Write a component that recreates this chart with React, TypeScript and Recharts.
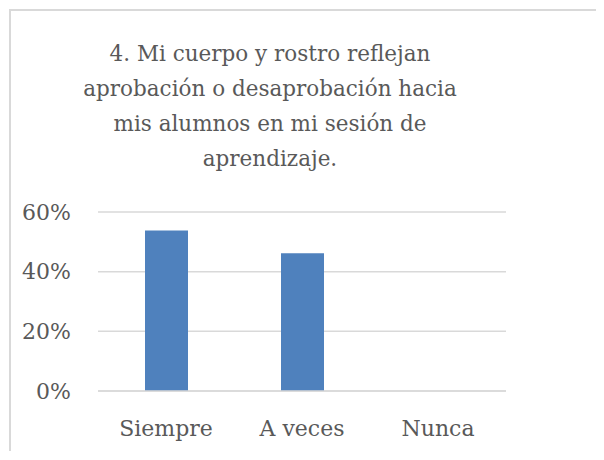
import { BarChart, Bar, XAxis, YAxis, CartesianGrid } from "recharts";

// 回答カテゴリと割合（%）
const CATEGORIES = ["Siempre", "A veces", "Nunca"];
const VALUES = [53.8, 46.2, 0];
const Y_TICKS = [0, 20, 40, 60];
const TITLE_LINES = [
  "4. Mi cuerpo y rostro reflejan",
  "aprobación o desaprobación hacia",
  "mis alumnos en mi sesión de",
  "aprendizaje.",
];

const data = CATEGORIES.map((name, i) => ({ name, value: VALUES[i] }));

const FONT = "'DejaVu Serif', serif";
const TEXT = "#595959";

export default function App() {
  return (
    <div
      style={{
        position: "relative",
        width: 585,
        height: 440,
        marginLeft: 1,
        marginTop: 1,
        borderTop: "2px solid #d9d9d9",
        borderLeft: "2px solid #d9d9d9",
        background: "#fff",
        fontFamily: FONT,
      }}
    >
      <div
        style={{
          position: "absolute",
          left: 0,
          top: 25,
          width: 518,
          textAlign: "center",
          fontSize: 21.5,
          lineHeight: "35px",
          color: TEXT,
        }}
      >
        {TITLE_LINES.map((l) => (
          <div key={l}>{l}</div>
        ))}
      </div>
      <BarChart
        width={585}
        height={440}
        data={data}
        margin={{ top: 201, right: 90, bottom: 20, left: 0 }}
        barCategoryGap={0}
      >
        <CartesianGrid vertical={false} stroke="#d9d9d9" strokeWidth={1.5} />
        <XAxis
          dataKey="name"
          axisLine={{ stroke: "#d9d9d9", strokeWidth: 1.5 }}
          tickLine={false}
          tickMargin={23}
          height={40}
          tick={{ fontSize: 22, fill: TEXT, fontFamily: FONT }}
        />
        <YAxis
          domain={[0, 60]}
          ticks={Y_TICKS}
          axisLine={false}
          tickLine={false}
          width={87}
          tickMargin={21}
          tickFormatter={(v: number) => `${v}%`}
          tick={{ fontSize: 22, fill: TEXT, fontFamily: FONT }}
        />
        <Bar dataKey="value" fill="#4f81bd" barSize={43} isAnimationActive={false} />
      </BarChart>
    </div>
  );
}
